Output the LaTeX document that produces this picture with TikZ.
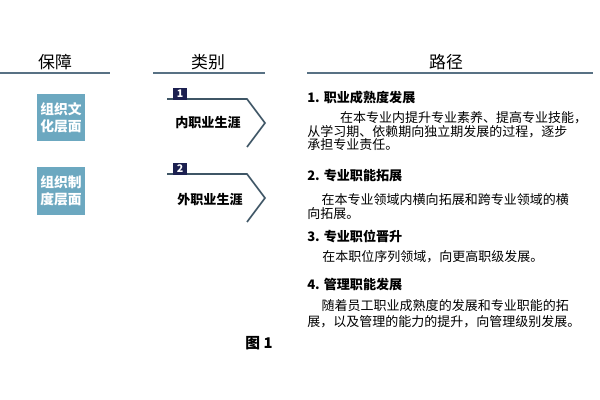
\documentclass[tikz,border=0pt]{standalone}
\usepackage{fontspec}
\setmainfont{Noto Sans CJK SC}
\definecolor{boxblue}{HTML}{6CA8C0}
\definecolor{rulegray}{HTML}{587184}
\definecolor{chevgray}{HTML}{3F5666}
\definecolor{badgenavy}{HTML}{1C2050}
\begin{document}
\begin{tikzpicture}[x=0.025cm, y=-0.025cm,
    head/.style={font=\fontsize{12}{14}\selectfont},
    level/.style={fill=boxblue, text=white, minimum width=1.2cm, minimum height=1.18cm, align=center, inner sep=0pt, font=\fontsize{9.8}{12}\selectfont\bfseries},
    badge/.style={fill=badgenavy, text=white, minimum width=0.33cm, minimum height=0.3cm, inner sep=0pt, font=\fontsize{7.5}{8}\selectfont\bfseries},
    kind/.style={font=\fontsize{9.3}{11}\selectfont\bfseries},
    title/.style={anchor=west, inner sep=0pt, font=\fontsize{9.3}{11}\selectfont\bfseries},
    para/.style={anchor=west, inner sep=0pt, align=left}]
    \useasboundingbox (0,0) rectangle (600,400);

    \node[head] (h1) at (55,62) {保障};
    \node[head] (h2) at (208,62) {类别};
    \node[head] (h3) at (446,62) {路径};
    \draw[rulegray, line width=1.8pt] (0,73) -- (110,73);
    \draw[rulegray, line width=1.8pt] (153,73) -- (265,73);
    \draw[rulegray, line width=1.8pt] (307,73) -- (593,73);

    \node[level] (l1) at (61,117.5) {组织文\\化层面};
    \node[level] (l2) at (61,191) {组织制\\度层面};

    \draw[chevgray, line width=1.2pt] (167,99) -- (247,99) -- (265,123) -- (247,147);
    \draw[chevgray, line width=1.2pt] (167,174) -- (247,174) -- (265,198) -- (247,222);
    \node[badge] (b1) at (180,94) {1};
    \node[badge] (b2) at (180,169) {2};
    \node[kind] (k1) at (208,123) {内职业生涯};
    \node[kind] (k2) at (210,200) {外职业生涯};

    \node[title] (t1) at (307,98) {1. 职业成熟度发展};
    \node[para, font=\fontsize{9.25}{9.6}\selectfont] (p1) at (307,131.5) {\hspace{0.82cm}在本专业内提升专业素养、提高专业技能，\\从学习期、依赖期向独立期发展的过程，逐步\\承担专业责任。};
    \node[title] (t2) at (307,176) {2. 专业职能拓展};
    \node[para, font=\fontsize{9.25}{10}\selectfont] (p2) at (307,207) {\hspace{0.36cm}在本专业领域内横向拓展和跨专业领域的横\\向拓展。};
    \node[title] (t3) at (307,236) {3. 专业职位晋升};
    \node[para, font=\fontsize{9.25}{10}\selectfont] (p3) at (322,257) {在本职位序列领域，向更高职级发展。};
    \node[title] (t4) at (307,285) {4. 管理职能发展};
    \node[para, font=\fontsize{9.25}{11.4}\selectfont] (p4) at (307,314) {\hspace{0.36cm}随着员工职业成熟度的发展和专业职能的拓\\展，以及管理的能力的提升，向管理级别发展。};

    \node[font=\fontsize{10.5}{12}\selectfont\bfseries] (fig) at (259,343) {图 1};
\end{tikzpicture}
\end{document}
